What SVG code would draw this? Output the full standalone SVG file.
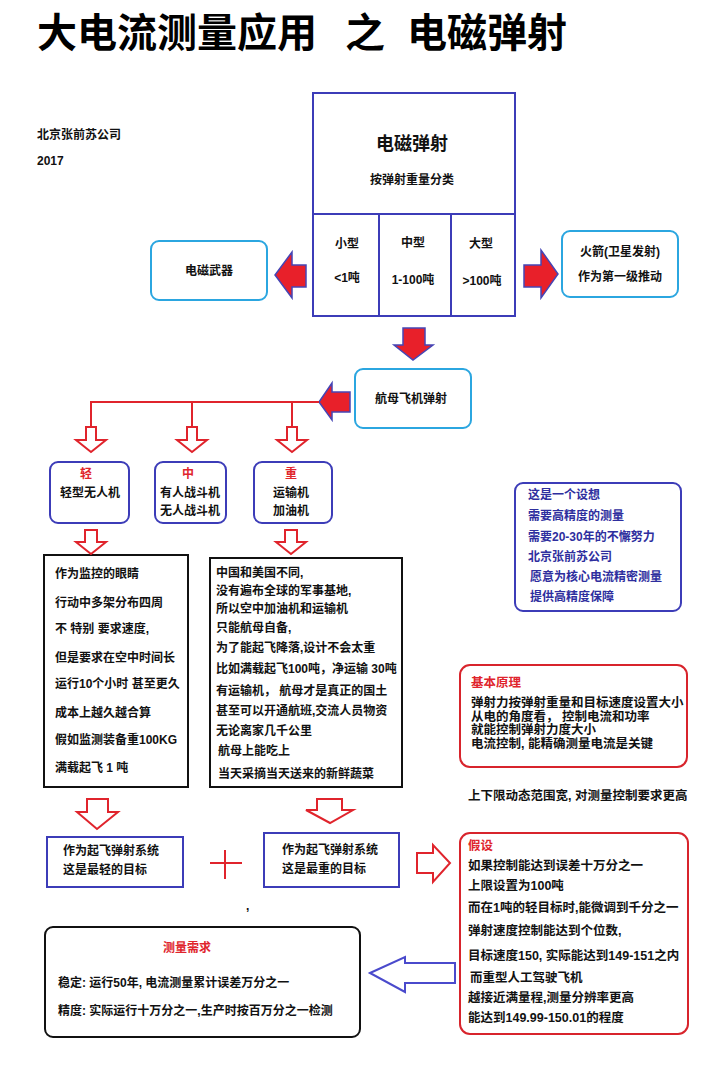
<svg xmlns="http://www.w3.org/2000/svg" width="726" height="1066" viewBox="0 0 726 1066">
<style>
.t{font-family:"Liberation Sans","Noto Sans CJK SC",sans-serif;font-size:12px;font-weight:bold;fill:#111}
.c{text-anchor:middle}
.red{fill:#e0242c}
.blu{fill:#2e2e9e}
.bx{fill:#fff;stroke:#3c3cb8;stroke-width:2}
.lb{fill:#fff;stroke:#2ba6e0;stroke-width:2}
.bk{fill:#fff;stroke:#111;stroke-width:2}
.rb{fill:#fff;stroke:#d8242c;stroke-width:2}
.ta{fill:#e8202a;stroke:#4545b5;stroke-width:1.5}
.ha{fill:#fff;stroke:#e0242c;stroke-width:2}
.ln{fill:none;stroke:#e0242c;stroke-width:2}
.title{font-family:"Noto Sans CJK SC",sans-serif;font-size:40px;font-weight:bold;fill:#000}
</style>
<rect width="726" height="1066" fill="#fff"/>
<g id="title">
<text class="title" x="37" y="47">大电流测量应用</text>
<text class="title" x="345" y="47">之</text>
<text class="title" x="407" y="47">电磁弹射</text>
<text class="t" x="37" y="139">北京张前苏公司</text>
<text class="t" x="37" y="165">2017</text>
</g>
<g id="main">
<rect class="bx" x="313" y="93" width="202" height="223"/>
<line x1="313" y1="214" x2="515" y2="214" stroke="#3c3cb8" stroke-width="2"/>
<line x1="379" y1="214" x2="379" y2="316" stroke="#3c3cb8" stroke-width="2"/>
<line x1="451" y1="214" x2="451" y2="316" stroke="#3c3cb8" stroke-width="2"/>
<text class="t c" x="412" y="150" style="font-size:18px">电磁弹射</text>
<text class="t c" x="412" y="184">按弹射重量分类</text>
<text class="t c" x="347" y="248">小型</text>
<text class="t c" x="347" y="282">&lt;1吨</text>
<text class="t c" x="413" y="247">中型</text>
<text class="t c" x="413" y="284">1-100吨</text>
<text class="t c" x="481" y="248">大型</text>
<text class="t c" x="482" y="285">&gt;100吨</text>
</g>
<g id="weapon">
<rect class="lb" x="151" y="241" width="116" height="59" rx="8"/>
<text class="t c" x="209" y="275">电磁武器</text>
</g>
<g id="rocket">
<rect class="lb" x="562" y="231" width="116" height="66" rx="8"/>
<text class="t c" x="620" y="256">火箭(卫星发射)</text>
<text class="t c" x="620" y="281">作为第一级推动</text>
</g>
<g id="carrier">
<rect class="lb" x="355" y="369" width="116" height="59" rx="8"/>
<text class="t c" x="411" y="403">航母飞机弹射</text>
</g>
<g id="light">
<rect class="bx" x="50" y="462" width="79" height="61" rx="8"/>
<text class="t c red" x="86" y="478">轻</text>
<text class="t c" x="90" y="497">轻型无人机</text>
</g>
<g id="medium">
<rect class="bx" x="155" y="462" width="71" height="61" rx="8"/>
<text class="t c red" x="188" y="478">中</text>
<text class="t c" x="190" y="497">有人战斗机</text>
<text class="t c" x="190" y="515">无人战斗机</text>
</g>
<g id="heavy">
<rect class="bx" x="254" y="462" width="78" height="61" rx="8"/>
<text class="t c red" x="291" y="478">重</text>
<text class="t c" x="291" y="497">运输机</text>
<text class="t c" x="291" y="515">加油机</text>
</g>
<g id="light-text">
<rect class="bk" x="44" y="555" width="144" height="232"/>
<text class="t" x="55" y="578">作为监控的眼睛</text>
<text class="t" x="55" y="607">行动中多架分布四周</text>
<text class="t" x="55" y="633">不 特别 要求速度,</text>
<text class="t" x="55" y="662">但是要求在空中时间长</text>
<text class="t" x="55" y="688">运行10个小时 甚至更久</text>
<text class="t" x="55" y="717">成本上越久越合算</text>
<text class="t" x="55" y="744">假如监测装备重100KG</text>
<text class="t" x="55" y="772">满载起飞 1 吨</text>
</g>
<g id="heavy-text">
<rect class="bk" x="210" y="558" width="192" height="229"/>
<text class="t" x="216" y="577">中国和美国不同,</text>
<text class="t" x="216" y="595">没有遍布全球的军事基地,</text>
<text class="t" x="216" y="613">所以空中加油机和运输机</text>
<text class="t" x="216" y="632">只能航母自备,</text>
<text class="t" x="216" y="652">为了能起飞降落,设计不会太重</text>
<text class="t" x="216" y="673">比如满载起飞100吨，净运输 30吨</text>
<text class="t" x="216" y="695">有运输机， 航母才是真正的国土</text>
<text class="t" x="216" y="715">甚至可以开通航班,交流人员物资</text>
<text class="t" x="216" y="735">无论离家几千公里</text>
<text class="t" x="218" y="755">航母上能吃上</text>
<text class="t" x="218" y="778">当天采摘当天送来的新鲜蔬菜</text>
</g>
<g id="idea">
<rect class="bx" x="515" y="483" width="166" height="128" rx="8"/>
<text class="t blu" x="528" y="499">这是一个设想</text>
<text class="t blu" x="528" y="520">需要高精度的测量</text>
<text class="t blu" x="528" y="541">需要20-30年的不懈努力</text>
<text class="t blu" x="528" y="561">北京张前苏公司</text>
<text class="t blu" x="530" y="581">愿意为核心电流精密测量</text>
<text class="t blu" x="530" y="601">提供高精度保障</text>
</g>
<g id="principle">
<rect class="rb" x="460" y="665" width="227" height="102" rx="10"/>
<text class="t red" x="471" y="687" style="font-size:12.5px">基本原理</text>
<text class="t" x="471" y="707" style="font-size:12.5px">弹射力按弹射重量和目标速度设置大小</text>
<text class="t" x="471" y="721" style="font-size:12.5px">从电的角度看， 控制电流和功率</text>
<text class="t" x="471" y="734" style="font-size:12.5px">就能控制弹射力度大小</text>
<text class="t" x="471" y="748" style="font-size:12.5px">电流控制, 能精确测量电流是关键</text>
</g>
<g id="note">
<text class="t" x="468" y="800" style="font-size:12.5px">上下限动态范围宽, 对测量控制要求更高</text>
<text class="t" x="246" y="910">,</text>
</g>
<g id="lightest">
<rect class="bx" x="47" y="837" width="136" height="50"/>
<text class="t" x="63" y="855">作为起飞弹射系统</text>
<text class="t" x="63" y="874">这是最轻的目标</text>
</g>
<g id="heaviest">
<rect class="bx" x="264" y="833" width="135" height="54"/>
<text class="t" x="282" y="854">作为起飞弹射系统</text>
<text class="t" x="282" y="873">这是最重的目标</text>
</g>
<g id="assume">
<rect class="rb" x="460" y="833" width="228" height="201" rx="10"/>
<text class="t red" x="468" y="850" style="font-size:12.5px">假设</text>
<text class="t" x="468" y="870" style="font-size:12.5px">如果控制能达到误差十万分之一</text>
<text class="t" x="468" y="890" style="font-size:12.5px">上限设置为100吨</text>
<text class="t" x="468" y="912" style="font-size:12.5px">而在1吨的轻目标时,能微调到千分之一</text>
<text class="t" x="468" y="935" style="font-size:12.5px">弹射速度控制能达到个位数,</text>
<text class="t" x="468" y="960" style="font-size:12.5px">目标速度150, 实际能达到149-151之内</text>
<text class="t" x="470" y="982" style="font-size:12.5px">而重型人工驾驶飞机</text>
<text class="t" x="468" y="1002" style="font-size:12.5px">越接近满量程,测量分辨率更高</text>
<text class="t" x="468" y="1022" style="font-size:12.5px">能达到149.99-150.01的程度</text>
</g>
<g id="need">
<rect class="bk" x="45" y="927" width="315" height="110" rx="8"/>
<text class="t c red" x="187" y="952">测量需求</text>
<text class="t" x="58" y="987">稳定: 运行50年, 电流测量累计误差万分之一</text>
<text class="t" x="58" y="1015">精度: 实际运行十万分之一,生产时按百万分之一检测</text>
</g>
<g id="connectors">
<polygon class="ta" points="306,265 292,265 292,252 275,275 292,298 292,287 306,287"/>
<polygon class="ta" points="524,265 541,265 541,250 558,274 541,298 541,287 524,287"/>
<polygon class="ta" points="403,328 425,328 425,345 433,345 413,360 394,345 403,345"/>
<polygon class="ta" points="350,392 332,392 332,383 319,402 332,420 332,412 350,412"/>
<polyline class="ln" points="319,402 91,402 91,427"/>
<line class="ln" x1="192" y1="402" x2="192" y2="427"/>
<line class="ln" x1="292" y1="402" x2="292" y2="427"/>
<polygon class="ha" points="86,427 96,427 96,440 106,440 91,452 76,440 86,440"/>
<polygon class="ha" points="187,427 197,427 197,440 207,440 192,452 177,440 187,440"/>
<polygon class="ha" points="287,427 297,427 297,440 307,440 292,452 277,440 287,440"/>
<polygon class="ha" points="85,530 97,530 97,542 106,542 91,554 76,542 85,542"/>
<polygon class="ha" points="285,530 297,530 297,542 306,542 291,554 276,542 285,542"/>
<polygon class="ha" points="87,799 108,799 108,812 118,812 97,829 77,812 87,812"/>
<polygon class="ha" points="317,799 342,799 342,810 353,810 330,823 306,810 317,810"/>
<polygon class="ha" points="417,853 433,853 433,845 450,863 433,882 433,873 417,873"/>
<line class="ln" x1="210" y1="863" x2="242" y2="863"/>
<line class="ln" x1="225" y1="850" x2="225" y2="879"/>
<polygon points="370,973 405,957 405,963 455,963 455,983 405,983 405,992" fill="#fff" stroke="#4a4acc" stroke-width="2"/>
</g>
</svg>
